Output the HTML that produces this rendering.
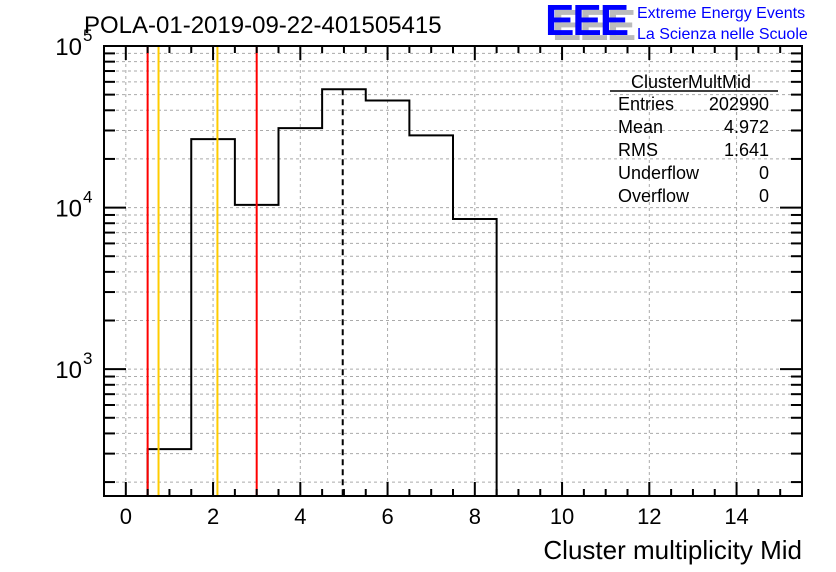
<!DOCTYPE html>
<html><head><meta charset="utf-8"><style>
html,body{margin:0;padding:0;background:#fff;width:836px;height:572px;overflow:hidden}
svg{display:block;font-family:"Liberation Sans",sans-serif}
</style></head><body>
<svg id="c" width="836" height="572"></svg>
<script>
const binLows=[0.5,1.5,2.5,3.5,4.5,5.5,6.5,7.5];
const binCounts=[320,26500,10400,31000,54000,46000,28000,8500];
const xTicks=[0,2,4,6,8,10,12,14];
const yDecades=[3,4,5];
const redLines=[0.5,3.0];
const orangeLines=[0.75,2.1];
const meanValue=4.972;
const statsLabels=["Entries","Mean","RMS","Underflow","Overflow"];
const statsValues=["202990","4.972","1.641","0","0"];

const L=104,R=802,T=46,B=496,xmin=-0.5,xmax=15.5;
const ylo=Math.log10(164),yhi=5;
const sx=v=>L+(v-xmin)/(xmax-xmin)*(R-L);
const sy=v=>B-(Math.log10(v)-ylo)/(yhi-ylo)*(B-T);
const svg=document.getElementById('c');
const NS="http://www.w3.org/2000/svg";
function mk(tag,attrs,parent){const e=document.createElementNS(NS,tag);for(const k in attrs)e.setAttribute(k,attrs[k]);(parent||svg).appendChild(e);return e;}

const grid=mk('g',{});


for(const t of xTicks){mk('line',{x1:sx(t),x2:sx(t),y1:T,y2:B,stroke:'#aaa','stroke-dasharray':'3,3','stroke-width':1},grid);}
for(let d=2;d<5;d++)for(let m=1;m<10;m++){const v=m*Math.pow(10,d);if(v<164||v>1e5)continue;const y=sy(v);mk('line',{x1:L,x2:R,y1:y,y2:y,stroke:'#aaa','stroke-dasharray':'3,3','stroke-width':1},grid);}

let d=`M${sx(binLows[0])},${B}`;
binLows.forEach((lo,i)=>{const y=sy(binCounts[i]);d+=` L${sx(lo)},${y} L${sx(lo+1)},${y}`;});
d+=` L${sx(binLows[binLows.length-1]+1)},${B}`;
const h=mk('path',{d:d,fill:'none',stroke:'#000','stroke-width':2});



for(const v of redLines){const l=mk('line',{x1:sx(v),x2:sx(v),y1:T,y2:B,stroke:'#f00','stroke-width':2});

}
for(const v of orangeLines){const l=mk('line',{x1:sx(v),x2:sx(v),y1:T,y2:B,stroke:'#fc0','stroke-width':2});

}
const ml=mk('line',{x1:sx(meanValue),x2:sx(meanValue),y1:sy(54000),y2:B,stroke:'#000','stroke-width':2,'stroke-dasharray':'6,4'});



const fr=mk('rect',{x:L,y:T,width:R-L,height:B-T,fill:'none',stroke:'#000','stroke-width':2});



const xax=mk('g',{});


for(let v=0;v<=15;v+=0.5){const x=sx(v);const big=(v%2===0);const len=big?14:7;
mk('line',{x1:x,x2:x,y1:B,y2:B-len,stroke:'#000','stroke-width':2},xax);
mk('line',{x1:x,x2:x,y1:T,y2:T+len,stroke:'#000','stroke-width':2},xax);}
for(const t of xTicks){const tx=mk('text',{x:sx(t),y:524,'font-size':22,'text-anchor':'middle'},xax);tx.textContent=t;}
const xt=mk('text',{x:802,y:559,'font-size':26,'text-anchor':'end'});xt.textContent='Cluster multiplicity Mid';



const yax=mk('g',{});


for(let dd=2;dd<5;dd++)for(let m=1;m<10;m++){const v=m*Math.pow(10,dd);if(v<164||v>1e5)continue;const y=sy(v);const len=m===1?22:11;
mk('line',{x1:L,x2:L+len,y1:y,y2:y,stroke:'#000','stroke-width':2},yax);
mk('line',{x1:R,x2:R-len,y1:y,y2:y,stroke:'#000','stroke-width':2},yax);}
for(const e of yDecades){const y=sy(Math.pow(10,e));const t=mk('text',{x:82,y:y+9,'font-size':24,'text-anchor':'end'},yax);t.textContent='10';
const s=mk('text',{x:83,y:y-5,'font-size':17},yax);s.textContent=e;}

const ti=mk('text',{x:84,y:33,'font-size':24});ti.textContent='POLA-01-2019-09-22-401505415';



const lg=mk('g',{});


const s1=mk('text',{x:552,y:40,'font-size':44,'font-weight':'bold',fill:'#bbb','letter-spacing':-2},lg);s1.textContent='EEE';
const s2=mk('text',{x:545,y:35,'font-size':44,'font-weight':'bold',fill:'#0000ff','letter-spacing':-2},lg);s2.textContent='EEE';
const l1=mk('text',{x:637,y:18,'font-size':16,fill:'#0000ff'},lg);l1.textContent='Extreme Energy Events';
const l2=mk('text',{x:637,y:39,'font-size':16,fill:'#0000ff'},lg);l2.textContent='La Scienza nelle Scuole';

const st=mk('g',{});


const sh=mk('text',{x:691,y:88,'font-size':18,'text-anchor':'middle'},st);sh.textContent='ClusterMultMid';
mk('line',{x1:610,x2:778,y1:91,y2:91,stroke:'#000','stroke-width':1.5},st);
statsLabels.forEach((lab,i)=>{const y=110+i*23;const a=mk('text',{x:618,y:y,'font-size':18},st);a.textContent=lab;
const b=mk('text',{x:769,y:y,'font-size':18,'text-anchor':'end'},st);b.textContent=statsValues[i];});
</script>
</body></html>
